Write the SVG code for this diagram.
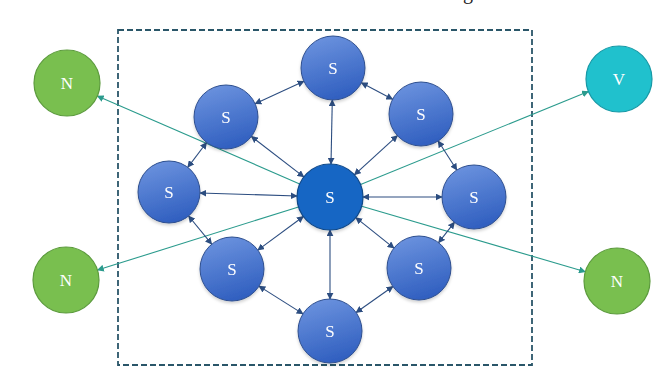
<svg xmlns="http://www.w3.org/2000/svg" width="672" height="373" viewBox="0 0 672 373">
  <style>
    .lbl { font-family: "Liberation Serif", "DejaVu Serif", serif; font-size: 17px; fill: #ffffff; text-anchor: middle; dominant-baseline: central; }
    .s { fill: url(#sGrad); stroke: #2e4f8f; stroke-width: 1; }
    .hub { fill: #1766c4; stroke: #0f4889; stroke-width: 1.2; }
    .n { fill: #79bf4f; stroke: #5c9b3d; stroke-width: 1.2; }
    .v { fill: #20c1cd; stroke: #1799a6; stroke-width: 1.2; }
    .link { stroke: #2c4d80; stroke-width: 1.1; fill: none; marker-start: url(#ah); marker-end: url(#ah); }
    .ext { stroke: #2b9b8d; stroke-width: 1.1; fill: none; marker-end: url(#ahTeal); }
    .frame { fill: none; stroke: #2a5669; stroke-width: 1.8; stroke-dasharray: 6 3; }
  </style>
  <defs>
    <linearGradient id="sGrad" x1="0.3" y1="0" x2="0.6" y2="1">
      <stop offset="0" stop-color="#6b92de"/>
      <stop offset="1" stop-color="#2f5ebf"/>
    </linearGradient>
    <marker id="ah" viewBox="0 0 10 10" refX="9" refY="5" markerWidth="7" markerHeight="7" markerUnits="userSpaceOnUse" orient="auto-start-reverse">
      <path d="M0,0 L10,5 L0,10 z" fill="#2c4d80"/>
    </marker>
    <marker id="ahTeal" viewBox="0 0 10 10" refX="9" refY="5" markerWidth="7" markerHeight="7" markerUnits="userSpaceOnUse" orient="auto">
      <path d="M0,0 L10,5 L0,10 z" fill="#2b9b8d"/>
    </marker>
    <filter id="shadow" x="-30%" y="-30%" width="160%" height="170%">
      <feDropShadow dx="0" dy="2" stdDeviation="1.5" flood-color="#000000" flood-opacity="0.18"/>
    </filter>
  </defs>

  <rect width="672" height="373" fill="#ffffff"/>

  <!-- caption line above, cut at the top edge -->
  <text x="463" y="-1" font-family="Liberation Serif, serif" font-size="20" fill="#222222">g</text>

  <!-- dashed enclosure around the S cluster -->
  <rect class="frame" x="118" y="30" width="414" height="335"/>

  <g id="connectors">
    <!-- outward links from the hub -->
    <line class="ext" x1="299.7" y1="183.9" x2="97.3" y2="96.1"/>
    <line class="ext" x1="360.6" y1="184.5" x2="588.4" y2="91.5"/>
    <line class="ext" x1="298.5" y1="206.9" x2="97.5" y2="270.1"/>
    <line class="ext" x1="361.7" y1="206.3" x2="585.3" y2="271.7"/>
    <!-- hub spokes -->
    <line class="link" x1="331" y1="164" x2="332.3" y2="100"/>
    <line class="link" x1="303.8" y1="176.9" x2="251.4" y2="136.5"/>
    <line class="link" x1="354.4" y1="174.8" x2="397.4" y2="135.6"/>
    <line class="link" x1="297" y1="196" x2="200" y2="193"/>
    <line class="link" x1="363" y1="197" x2="442" y2="197"/>
    <line class="link" x1="303.4" y1="216.5" x2="257.8" y2="250.1"/>
    <line class="link" x1="355.8" y1="217.6" x2="394" y2="248.1"/>
    <line class="link" x1="330" y1="230" x2="330" y2="299"/>
    <!-- outer ring -->
    <line class="link" x1="361.4" y1="82.8" x2="392.6" y2="99.2"/>
    <line class="link" x1="438.2" y1="141" x2="456.8" y2="170"/>
    <line class="link" x1="454.4" y1="222.3" x2="438.6" y2="242.7"/>
    <line class="link" x1="392.9" y1="286.5" x2="356.1" y2="312.5"/>
    <line class="link" x1="303" y1="313.9" x2="259" y2="286.1"/>
    <line class="link" x1="211.7" y1="244.2" x2="188.6" y2="216"/>
    <line class="link" x1="187.8" y1="167.3" x2="206.6" y2="142.5"/>
    <line class="link" x1="255.1" y1="103.7" x2="303.9" y2="81.3"/>
  </g>

  <g id="hub" filter="url(#shadow)"><circle class="hub" cx="330" cy="197" r="33"/><text class="lbl" x="330" y="197">S</text></g>
  <g id="s-top" filter="url(#shadow)"><circle class="s" cx="333" cy="68" r="32"/><text class="lbl" x="333" y="68">S</text></g>
  <g id="s-upper-left" filter="url(#shadow)"><circle class="s" cx="226" cy="117" r="32"/><text class="lbl" x="226" y="117">S</text></g>
  <g id="s-upper-right" filter="url(#shadow)"><circle class="s" cx="421" cy="114" r="32"/><text class="lbl" x="421" y="114">S</text></g>
  <g id="s-left" filter="url(#shadow)"><circle class="s" cx="169" cy="192" r="31"/><text class="lbl" x="169" y="192">S</text></g>
  <g id="s-right" filter="url(#shadow)"><circle class="s" cx="474" cy="197" r="32"/><text class="lbl" x="474" y="197">S</text></g>
  <g id="s-lower-left" filter="url(#shadow)"><circle class="s" cx="232" cy="269" r="32"/><text class="lbl" x="232" y="269">S</text></g>
  <g id="s-lower-right" filter="url(#shadow)"><circle class="s" cx="419" cy="268" r="32"/><text class="lbl" x="419" y="268">S</text></g>
  <g id="s-bottom" filter="url(#shadow)"><circle class="s" cx="330" cy="331" r="32"/><text class="lbl" x="330" y="331">S</text></g>

  <g id="n-top-left"><circle class="n" cx="67" cy="83" r="33"/><text class="lbl" x="67" y="83">N</text></g>
  <g id="v-top-right"><circle class="v" cx="619" cy="79" r="33"/><text class="lbl" x="619" y="79">V</text></g>
  <g id="n-bottom-left"><circle class="n" cx="66" cy="280" r="33"/><text class="lbl" x="66" y="280">N</text></g>
  <g id="n-bottom-right"><circle class="n" cx="617" cy="281" r="33"/><text class="lbl" x="617" y="281">N</text></g>
</svg>
